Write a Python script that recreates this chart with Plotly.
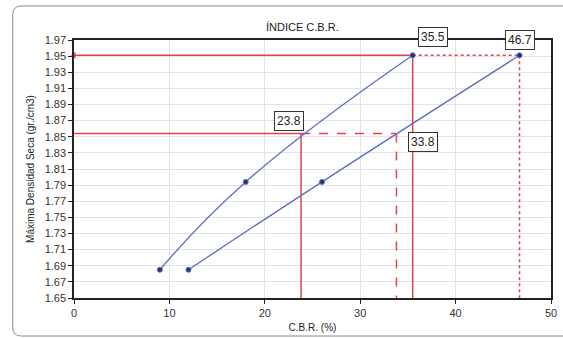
import plotly.graph_objects as go

# ---- data ----
cbr_1 = [9.0, 18.0, 35.5]
dens_1 = [1.685, 1.794, 1.951]
cbr_2 = [12.0, 26.0, 46.7]
dens_2 = [1.685, 1.794, 1.951]
dens_max = 1.951
dens_95 = 1.854
cbr_max_1 = 35.5
cbr_max_2 = 46.7
cbr_95_1 = 23.8
cbr_95_2 = 33.8
x_ticks = [0, 10, 20, 30, 40, 50]
y_ticks = [round(1.65 + 0.02 * i, 2) for i in range(17)]

RED = "#e4424d"
BLUE = "#5b6ec4"
NAVY = "#2a2f6e"
FONT = "Liberation Sans"

fig = go.Figure()

# reference red lines
def seg(xs, ys, dash, width=1.5):
    fig.add_trace(go.Scatter(x=xs, y=ys, mode="lines",
                             line=dict(color=RED, width=width, dash=dash),
                             hoverinfo="skip", showlegend=False, cliponaxis=False))

seg([0, cbr_max_1], [dens_max, dens_max], "solid")
seg([cbr_max_1, cbr_max_1], [dens_max, 1.65], "solid")
seg([cbr_max_1, cbr_max_2], [dens_max, dens_max], "dot", 1.5)
seg([cbr_max_2, cbr_max_2], [dens_max, 1.65], "dot", 1.5)
seg([0, cbr_95_1], [dens_95, dens_95], "solid")
seg([cbr_95_1, cbr_95_1], [dens_95, 1.65], "solid")
seg([cbr_95_1, cbr_95_2], [dens_95, dens_95], "dash", 1.5)
seg([cbr_95_2, cbr_95_2], [dens_95, 1.65], "dash", 1.5)

fig.add_trace(go.Scatter(x=[0], y=[dens_max], mode="markers",
                         marker=dict(symbol="triangle-left", size=6, color=RED),
                         showlegend=False, cliponaxis=False))

# curves
for xs, ys in [(cbr_1, dens_1), (cbr_2, dens_2)]:
    fig.add_trace(go.Scatter(x=xs, y=ys, mode="lines+markers",
                             line=dict(color=BLUE, width=1.3, shape="spline", smoothing=1.3),
                             marker=dict(size=5, color=NAVY, line=dict(color=BLUE, width=1)),
                             showlegend=False, cliponaxis=False))

# value labels (paper coords)
labels = [(f"{cbr_max_1}", 0.7526, 1.0116), (f"{cbr_max_2}", 0.9348, 1.0),
          (f"{cbr_95_1}", 0.4513, 0.686), (f"{cbr_95_2}", 0.7308, 0.6058)]
for txt, x, y in labels:
    fig.add_annotation(x=x, y=y, xref="paper", yref="paper", text=txt, showarrow=False,
                       xanchor="center", yanchor="middle",
                       font=dict(family=FONT, size=12, color="#222"),
                       bgcolor="white", bordercolor="#333", borderwidth=1, borderpad=2)

# titles
fig.add_annotation(x=0.48, y=1.050, xref="paper", yref="paper", text="ÍNDICE C.B.R.",
                   xanchor="center", yanchor="middle",
                   showarrow=False, font=dict(family=FONT, size=11, color="#222"))
fig.add_annotation(x=0.435, y=1.1434, xref="paper", yref="paper", yanchor="bottom",
                   text="<b>CURVA C.B.R. VS DENSIDAD SECA</b>",
                   showarrow=False, font=dict(family=FONT, size=11, color="#222"))

# outer rounded frame (paper coords)
L, R, T, B = -0.1284, 1.03, 1.1318, -0.1473
rx, ry = 0.018, 0.033
path = (f"M {L+rx},{T} L {R},{T} M {L+rx},{T} Q {L},{T} {L},{T-ry} "
        f"L {L},{B+ry} Q {L},{B} {L+rx},{B} L {R},{B}")
fig.add_shape(type="path", path=path, xref="paper", yref="paper",
              line=dict(color="#8a8a8a", width=1))

fig.update_xaxes(range=[0, 50], tickvals=x_ticks, showgrid=True, gridcolor="#e3e3e3",
                 gridwidth=1, showline=True, linecolor="#222", linewidth=1.5, mirror=True,
                 ticks="outside", ticklen=4, tickcolor="#222", zeroline=False,
                 title=dict(text="C.B.R. (%)", font=dict(family=FONT, size=10, color="#222"), standoff=6),
                 tickfont=dict(family=FONT, size=11, color="#333"))
fig.update_yaxes(range=[1.65, 1.97], tickvals=y_ticks, tickformat=".2f", showgrid=True,
                 gridcolor="#e3e3e3", gridwidth=1, showline=True, linecolor="#222",
                 linewidth=1.5, mirror=True, ticks="outside", ticklen=4, tickcolor="#222",
                 zeroline=False,
                 title=dict(text="Máxima Densidad Seca (gr./cm3)",
                            font=dict(family=FONT, size=10, color="#222"), standoff=8),
                 tickfont=dict(family=FONT, size=11, color="#333"))

fig.update_layout(width=563, height=338, margin=dict(l=74, r=6, t=40, b=40),
                  paper_bgcolor="white", plot_bgcolor="white", showlegend=False)

fig.write_html("out.html")
